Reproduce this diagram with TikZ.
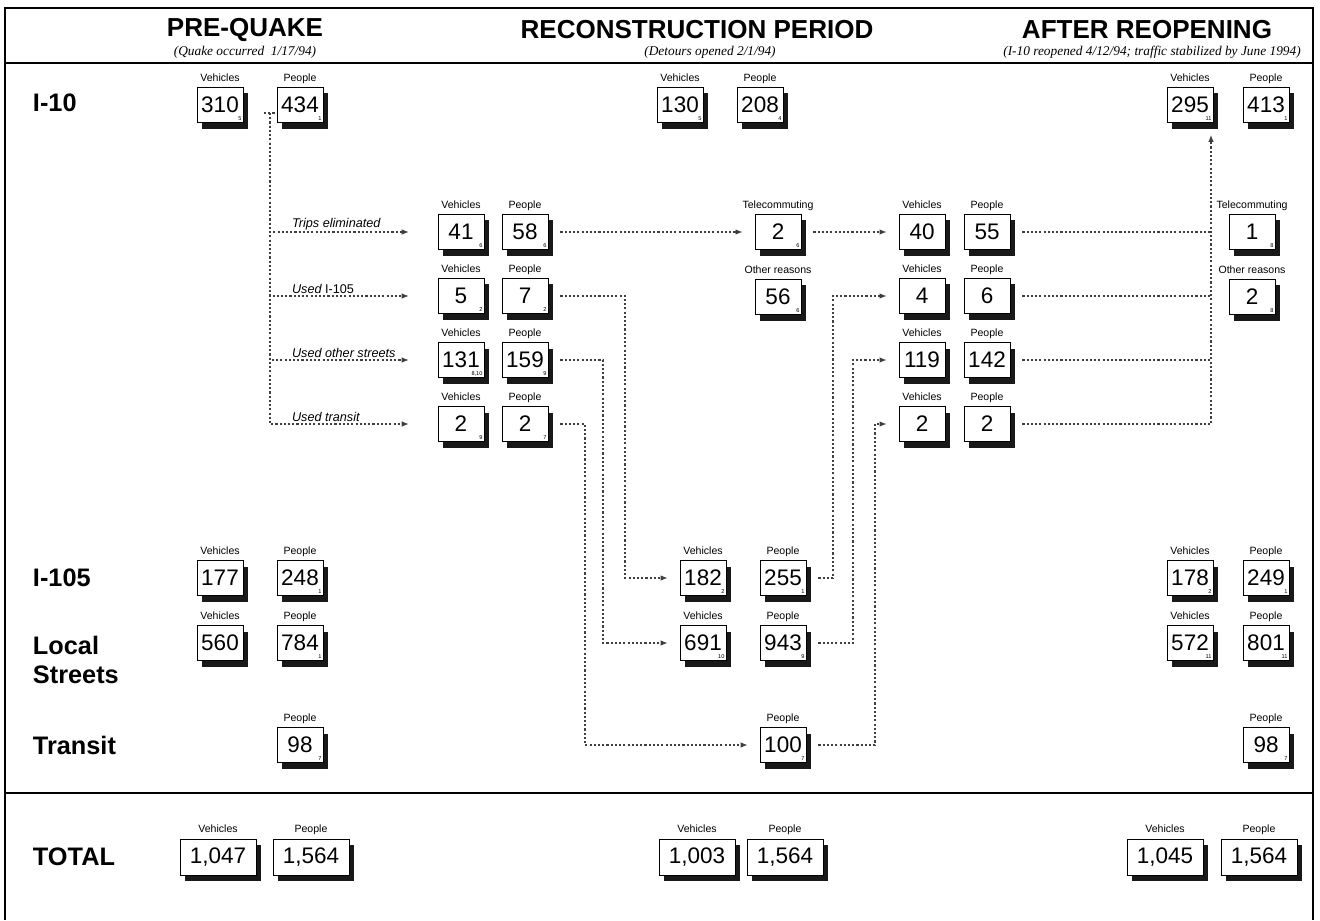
\documentclass[tikz,border=0pt]{standalone}
\usepackage{fontspec}
\setmainfont{Liberation Sans}
\newfontfamily\datefont{Liberation Serif}
\usetikzlibrary{positioning,shapes,arrows.meta,shadows}

\tikzset{
  cnt/.style={draw, fill=white, line width=0.6pt, minimum width=1.15cm, minimum height=0.875cm,
    inner sep=0pt, font=\fontsize{16}{16}\selectfont,
    drop shadow={shadow xshift=0.13cm, shadow yshift=-0.15cm, fill=black, opacity=0.9}},
  tot/.style={cnt, minimum width=1.9cm, minimum height=0.9cm},
  hdl/.style={font=\fontsize{7.5}{8}\selectfont, inner sep=1.5pt, text height=1.6ex, text depth=0.45ex},
  subl/.style={font=\fontsize{4}{4}\selectfont, anchor=south east, inner sep=1.2pt},
  sb/.style={label={[subl]south east:#1}},
  rowl/.style={font=\fontsize{18}{20}\selectfont\bfseries, anchor=west, align=left},
  ttl/.style={font=\fontsize{18.5}{20}\selectfont\bfseries},
  dte/.style={font=\datefont\itshape\fontsize{9.5}{11}\selectfont},
  brl/.style={font=\fontsize{9}{10}\selectfont\itshape, inner sep=1pt},
  flow/.style={draw=black!75, line width=0.8pt, dash pattern=on 1.5pt off 1.5pt},
  frm/.style={line width=0.8pt}
}

\begin{document}
\begin{tikzpicture}[x=0.025cm, y=-0.025cm, >={Latex[length=5pt,width=4pt]}]
\useasboundingbox (0,0) rectangle (1320,920);

% ── Frame and rules ──────────────────────────────────────────
\draw[frm] (5,920) -- (5,8) -- (1313,8) -- (1313,920);
\draw[frm] (5,63) -- (1313,63);
\draw[frm] (5,793) -- (1313,793);

% ── Column headers ───────────────────────────────────────────
\node[ttl] (hpre) at (245,30) {PRE-QUAKE};
\node[dte] (dpre) at (245,52) {(Quake occurred\ \ 1/17/94)};
\node[ttl] (hrec) at (697,30) {RECONSTRUCTION PERIOD};
\node[dte] (drec) at (710,52) {(Detours opened 2/1/94)};
\node[ttl] (haft) at (1147,30) {AFTER REOPENING};
\node[dte] (daft) at (1152,52) {(I-10 reopened 4/12/94; traffic stabilized by June 1994)};

% ── Row labels ───────────────────────────────────────────────
\node[rowl] (ri10)  at (28,103) {I-10};
\node[rowl] (ri105) at (28,578) {I-105};
\node[rowl] (rloc)  at (28,660) {Local\\Streets};
\node[rowl] (rtra)  at (28,745) {Transit};
\node[rowl] (rtot)  at (28,857) {TOTAL};

% ── Count boxes: name/x/y/heading/value/note ────────────────
\foreach \nm/\px/\py/\hd/\val/\nt in {
    v310/220/105/Vehicles/310/5,   p434/300/105/People/434/1,
    v130/680/105/Vehicles/130/5,   p208/760/105/People/208/4,
    v295/1190/105/Vehicles/295/11, p413/1266/105/People/413/1,
    v41/461/232/Vehicles/41/6,     p58/525/232/People/58/6,
    v5/461/296/Vehicles/5/2,       p7/525/296/People/7/2,
    v131/461/360/Vehicles/131/{8,10}, p159/525/360/People/159/9,
    v2a/461/424/Vehicles/2/9,      p2a/525/424/People/2/7,
    tele2/778/232/Telecommuting/2/6, oth56/778/297/Other reasons/56/6,
    v40/922/232/Vehicles/40/,      p55/987/232/People/55/,
    v4/922/296/Vehicles/4/,        p6/987/296/People/6/,
    v119/922/360/Vehicles/119/,    p142/987/360/People/142/,
    v2b/922/424/Vehicles/2/,       p2b/987/424/People/2/,
    tele1/1252/232/Telecommuting/1/8, oth2/1252/297/Other reasons/2/8,
    v177/220/578/Vehicles/177/,    p248/300/578/People/248/1,
    v182/703/578/Vehicles/182/2,   p255/783/578/People/255/1,
    v178/1190/578/Vehicles/178/2,  p249/1266/578/People/249/1,
    v560/220/643/Vehicles/560/,    p784/300/643/People/784/1,
    v691/703/643/Vehicles/691/10,  p943/783/643/People/943/9,
    v572/1190/643/Vehicles/572/11, p801/1266/643/People/801/11,
    p98a/300/745/People/98/7,      p100/783/745/People/100/7,
    p98b/1266/745/People/98/7} {
  \node[cnt, label={[hdl]above:\hd}, sb=\nt] (\nm) at (\px,\py) {\val};
}

% ── Totals ───────────────────────────────────────────────────
\foreach \nm/\px/\hd/\val in {
    tv1/218/Vehicles/{1,047}, tp1/311/People/{1,564},
    tv2/697/Vehicles/{1,003}, tp2/785/People/{1,564},
    tv3/1165/Vehicles/{1,045}, tp3/1259/People/{1,564}} {
  \node[tot, label={[hdl]above:\hd}] (\nm) at (\px,857) {\val};
}

% ── Lanes for the routed connectors ──────────────────────────
\coordinate (split) at (270,113);
\coordinate (lnA) at (625,0);  \coordinate (lnB) at (603,0);
\coordinate (lnC) at (585,0);  \coordinate (lnD) at (833,0);
\coordinate (lnE) at (853,0);  \coordinate (lnF) at (875,0);
\coordinate (lnG) at (1211,0);

% I-10 trips split four ways
\draw[flow] ([xshift=-0.15cm]split) -- ([xshift=0.15cm]split);
\foreach \tg/\tx in {v41/Trips eliminated, v5/Used \upshape I-105,
                     v131/Used other streets, v2a/Used transit}
  \draw[flow, ->, shorten >=0.72cm] (split) |- (\tg)
    node[brl, pos=0.56, anchor=south west] {\tx};

\draw[flow, ->, shorten <=0.3cm, shorten >=0.3cm] (p58) -- (tele2);
\draw[flow, ->, shorten <=0.3cm, shorten >=0.3cm] (tele2) -- (v40);

% detours down, and back up
\foreach \fr/\ln/\tg in {p7/lnA/v182, p159/lnB/v691, p2a/lnC/p100,
                         p255/lnD/v4, p943/lnE/v119, p100/lnF/v2b}
  \draw[flow, ->, shorten <=0.3cm, shorten >=0.3cm] (\fr) -- (\fr -| \ln) |- (\tg);

% back to I-10
\foreach \fr in {p55, p6, p142}
  \draw[flow, shorten <=0.3cm] (\fr) -- (\fr -| lnG);
\draw[flow, ->, shorten <=0.3cm, shorten >=0.3cm] (p2b) -- (p2b -| lnG) -- (lnG |- v295.south);

\end{tikzpicture}
\end{document}
